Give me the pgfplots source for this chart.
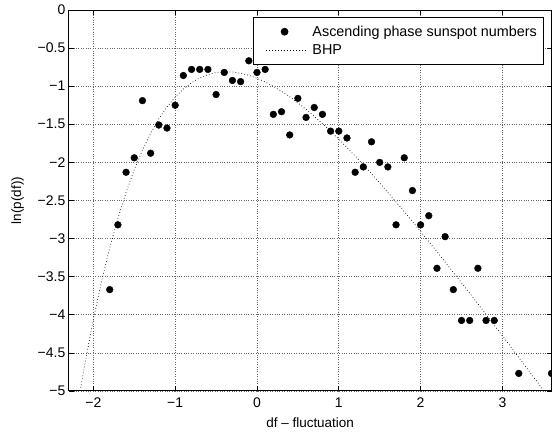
\documentclass[border=0pt]{standalone}
\usepackage{pgfplots}
\pgfplotsset{compat=1.18}
\usepackage{fontspec}
\setmainfont{Liberation Sans}
\pgfplotsset{
  longline legend/.style={legend image code/.code={\path[draw=none,fill=none] (-7pt,0pt) -- (45pt,0pt); \draw[##1] (0pt,0pt) -- (41pt,0pt);}},
  dot legend/.style={legend image code/.code={\path[draw=none,fill=none] (-7pt,0pt) -- (45pt,0pt); \draw[##1] plot coordinates {(19pt,0pt)};}}
}
\begin{document}
\begin{tikzpicture}
\begin{axis}[
  scale only axis,
  width=484pt, height=382pt,
  xmin=-2.3, xmax=3.6, ymin=-5, ymax=0,
  xtick={-2,-1,0,1,2,3},
  xticklabels={−2,−1,0,1,2,3},
  ytick={-5,-4.5,-4,-3.5,-3,-2.5,-2,-1.5,-1,-0.5,0},
  yticklabels={−5,−4.5,−4,−3.5,−3,−2.5,−2,−1.5,−1,−0.5,0},
  tick align=inside,
  major tick length=5pt,
  tick style={black, line width=0.6pt},
  axis line style={line width=0.9pt},
  grid=major,
  grid style={dotted, line width=0.6pt, black!60},
  tick label style={font=\fontsize{14}{16}\selectfont},
  xticklabel style={yshift=-3pt},
  label style={font=\fontsize{13.5}{16}\selectfont},
  xlabel={df – fluctuation},
  ylabel={ln(p(df))},
  xlabel style={yshift=-4pt},
  ylabel style={yshift=7pt},
  legend style={at={(0.985,0.982)}, anchor=north east, draw=black, line width=0.9pt,
    font=\fontsize{14.4}{16}\selectfont, inner xsep=5pt, inner ysep=6.5pt, row sep=3pt,
    legend cell align=left},
  clip=true,
]
\addplot[only marks, mark=*, mark size=3.4pt, black, dot legend] coordinates {
(-1.8,-3.67) (-1.7,-2.82) (-1.6,-2.13) (-1.5,-1.94) (-1.4,-1.19) (-1.3,-1.88)
(-1.2,-1.51) (-1.1,-1.55) (-1.0,-1.25) (-0.9,-0.86) (-0.8,-0.78) (-0.7,-0.78)
(-0.6,-0.78) (-0.5,-1.11) (-0.4,-0.82) (-0.3,-0.925) (-0.2,-0.94) (-0.1,-0.667)
(0.0,-0.82) (0.1,-0.78) (0.2,-1.37) (0.3,-1.335) (0.4,-1.64) (0.5,-1.16)
(0.6,-1.41) (0.7,-1.28) (0.8,-1.37) (0.9,-1.59) (1.0,-1.59) (1.1,-1.68)
(1.2,-2.13) (1.3,-2.06) (1.4,-1.73) (1.5,-2.00) (1.6,-2.06) (1.7,-2.82)
(1.8,-1.94) (1.9,-2.37) (2.0,-2.82) (2.1,-2.70) (2.2,-3.39) (2.3,-2.975)
(2.4,-3.67) (2.5,-4.075) (2.6,-4.075) (2.7,-3.39) (2.8,-4.075) (2.9,-4.075)
(3.2,-4.77) (3.6,-4.77)
};
\addlegendentry{Ascending phase sunspot numbers}
\addplot[black, line width=0.7pt, dash pattern=on 0.7pt off 2.3pt, longline legend] coordinates {
(-2.16,-5.0) (-2.1,-4.625) (-2.0,-4.063) (-1.9,-3.563) (-1.8,-3.123) (-1.7,-2.734)
(-1.6,-2.393) (-1.5,-2.096) (-1.4,-1.840) (-1.3,-1.619) (-1.2,-1.431) (-1.1,-1.273)
(-1.0,-1.143) (-0.9,-1.037) (-0.8,-0.954) (-0.7,-0.891) (-0.6,-0.848) (-0.5,-0.821)
(-0.4,-0.810) (-0.3,-0.814) (-0.2,-0.830) (-0.1,-0.858) (0.0,-0.896) (0.1,-0.944)
(0.2,-1.002) (0.3,-1.067) (0.4,-1.139) (0.5,-1.219) (0.6,-1.304) (0.7,-1.395)
(0.8,-1.491) (0.9,-1.592) (1.0,-1.696) (1.2,-1.917) (1.4,-2.150) (1.6,-2.394)
(1.8,-2.647) (2.0,-2.906) (2.2,-3.172) (2.4,-3.443) (2.6,-3.717) (2.8,-3.996)
(3.0,-4.277) (3.2,-4.560) (3.4,-4.845) (3.5,-4.989)
};
\addlegendentry{BHP}
\end{axis}
\pgfresetboundingbox
\path[use as bounding box] ([xshift=-69pt,yshift=-44pt]current axis.south west) rectangle ([xshift=0.5pt,yshift=10pt]current axis.north east);
\end{tikzpicture}
\end{document}
